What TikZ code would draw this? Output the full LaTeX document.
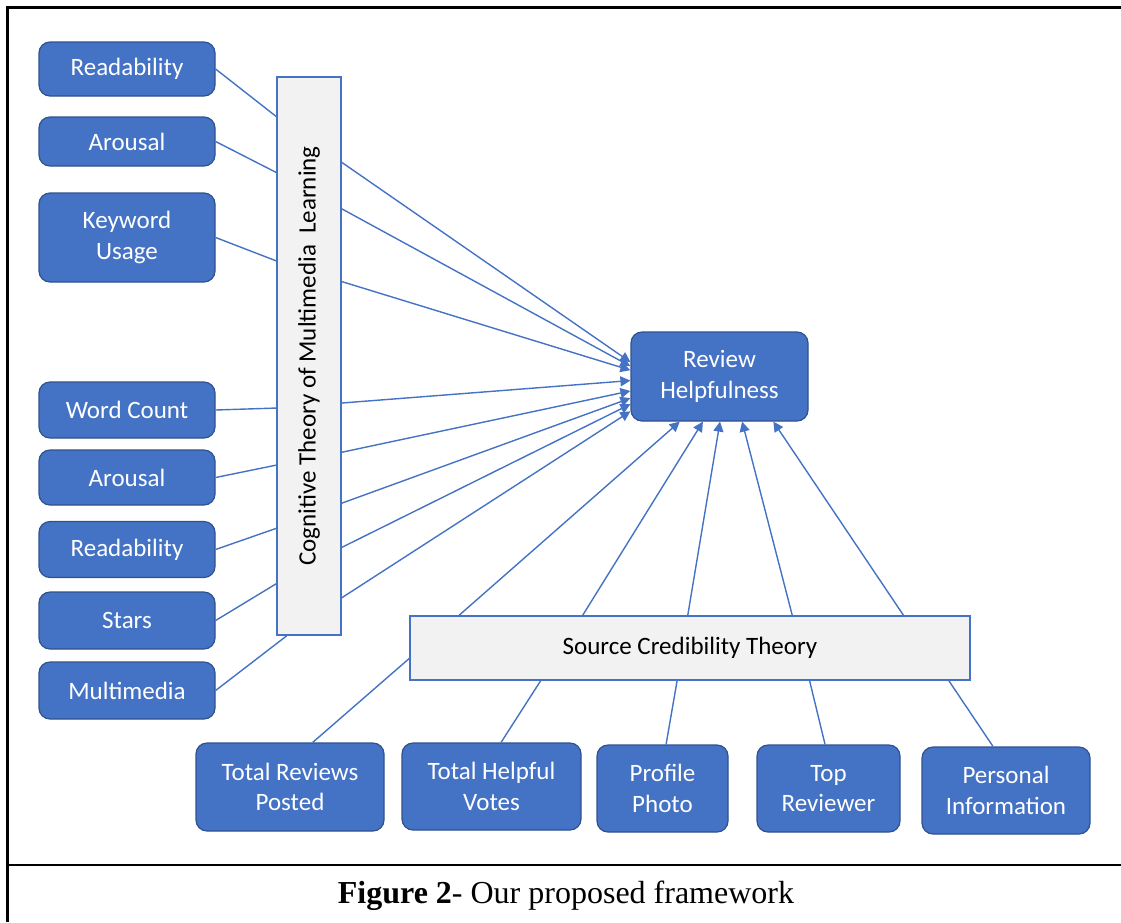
\documentclass[tikz,border=0pt]{standalone}
\usepackage{fontspec}
\setmainfont{Liberation Serif}
\newfontfamily\calibri{Carlito}
\usetikzlibrary{arrows.meta, calc, positioning}
\definecolor{officeBlue}{HTML}{4472C4}
\definecolor{officeEdge}{HTML}{2F528F}
\definecolor{paleGray}{HTML}{F2F2F2}
\tikzset{
    blueBox/.style={draw=officeEdge, line width=1.2pt, fill=officeBlue, rounded corners=11pt,
        text=white, align=center, inner sep=0pt,
        font=\calibri\fontsize{25}{30.5}\selectfont},
    leftBox/.style={blueBox, minimum width=176pt},
    theoryBox/.style={draw=officeBlue, line width=1.6pt, fill=paleGray, inner sep=0pt,
        text=black, font=\calibri\fontsize{25}{30}\selectfont},
    link/.style={draw=officeBlue, line width=1.4pt},
    linkArrow/.style={link, -{Triangle[length=10pt, width=10pt]}}
}

\begin{document}
\begin{tikzpicture}[x=1pt, y=-1pt]
    \useasboundingbox (0,0) rectangle (1121,922);
    % frame, cut off at the right and at the bottom
    \coordinate (fb) at (7,922);
    \coordinate (ft) at (7,7);
    \coordinate (fr) at (1121,7);
    \coordinate (cl) at (7,865);
    \coordinate (cr) at (1121,865);
    \draw[line width=3pt] (fb) -- (ft) -- (fr);
    \draw[line width=2pt] (cl) -- (cr);

    % message features
    \node[leftBox, minimum height=54pt] (rdA) at (127,69) {Readability};
    \node[leftBox, minimum height=49pt] (arA) at (127,141.5) {Arousal};
    \node[leftBox, minimum height=89pt] (kwU) at (127,237.5) {Keyword\\Usage};
    \node[leftBox, minimum height=56pt] (wcB) at (127,410) {Word Count};
    \node[leftBox, minimum height=55pt] (arB) at (127,477.5) {Arousal};
    \node[leftBox, minimum height=56pt] (rdB) at (127,549.5) {Readability};
    \node[leftBox, minimum height=57pt] (stB) at (127,620.5) {Stars};
    \node[leftBox, minimum height=57pt] (mmB) at (127,690.5) {Multimedia};

    % the two theories and the outcome
    \node[theoryBox, minimum width=64pt, minimum height=558pt] (cml) at (309,356)
        {\rotatebox{90}{Cognitive Theory of Multimedia~\ Learning}};
    \node[theoryBox, minimum width=560pt, minimum height=64pt] (sct) at (690,648)
        {Source Credibility Theory};
    \node[blueBox, minimum width=177pt, minimum height=89pt] (rh) at (719.5,376.5)
        {Review\\Helpfulness};

    % source features
    \node[blueBox, minimum width=188pt, minimum height=88pt] (trp) at (290,787) {Total Reviews\\Posted};
    \node[blueBox, minimum width=179pt, minimum height=87pt] (thv) at (491.5,786.5) {Total Helpful\\Votes};
    \node[blueBox, minimum width=131pt, minimum height=87pt] (pp) at (662.5,788.5) {Profile\\Photo};
    \node[blueBox, minimum width=143pt, minimum height=87pt] (tr) at (828.5,788.5) {Top\\Reviewer};
    \node[blueBox, minimum width=168pt, minimum height=87pt] (pi) at (1006,790.5) {Personal\\Information};

    % features into the multimedia learning box
    \draw[link] (rdA.east) -- ($(cml.north west)!0.072!(cml.south west)$);
    \draw[link] (arA.east) -- ($(cml.north west)!0.172!(cml.south west)$);
    \draw[link] (kwU.east) -- ($(cml.north west)!0.330!(cml.south west)$);
    \draw[link] (wcB.east) -- ($(cml.north west)!0.593!(cml.south west)$);
    \draw[link] (arB.east) -- ($(cml.north west)!0.695!(cml.south west)$);
    \draw[link] (rdB.east) -- ($(cml.north west)!0.808!(cml.south west)$);
    \draw[link] (stB.east) -- ($(cml.north west)!0.907!(cml.south west)$);
    \draw[link] (mmB.east) -- ($(cml.south west)!0.16!(cml.south east)$);

    % multimedia learning box to helpfulness
    \draw[linkArrow] ($(cml.north east)!0.154!(cml.south east)$) -- ($(rh.north west)!0.340!(rh.south west)$);
    \draw[linkArrow] ($(cml.north east)!0.237!(cml.south east)$) -- ($(rh.north west)!0.386!(rh.south west)$);
    \draw[linkArrow] ($(cml.north east)!0.367!(cml.south east)$) -- ($(rh.north west)!0.430!(rh.south west)$);
    \draw[linkArrow] ($(cml.north east)!0.584!(cml.south east)$) -- ($(rh.north west)!0.545!(rh.south west)$);
    \draw[linkArrow] ($(cml.north east)!0.672!(cml.south east)$) -- ($(rh.north west)!0.660!(rh.south west)$);
    \draw[linkArrow] ($(cml.north east)!0.763!(cml.south east)$) -- ($(rh.north west)!0.740!(rh.south west)$);
    \draw[linkArrow] ($(cml.north east)!0.842!(cml.south east)$) -- ($(rh.north west)!0.807!(rh.south west)$);
    \draw[linkArrow] ($(cml.north east)!0.932!(cml.south east)$) -- ($(rh.north west)!0.886!(rh.south west)$);

    % source credibility box to helpfulness
    \draw[linkArrow] ($(sct.north west)!0.089!(sct.north east)$) -- ($(rh.south west)!0.277!(rh.south east)$);
    \draw[linkArrow] ($(sct.north west)!0.309!(sct.north east)$) -- ($(rh.south west)!0.407!(rh.south east)$);
    \draw[linkArrow] ($(sct.north west)!0.496!(sct.north east)$) -- ($(rh.south west)!0.503!(rh.south east)$);
    \draw[linkArrow] ($(sct.north west)!0.682!(sct.north east)$) -- ($(rh.south west)!0.627!(rh.south east)$);
    \draw[linkArrow] ($(sct.north west)!0.880!(sct.north east)$) -- ($(rh.south west)!0.802!(rh.south east)$);

    % source features into the credibility box
    \draw[link] ($(trp.north west)!0.62!(trp.north east)$) -- ($(sct.north west)!0.66!(sct.south west)$);
    \draw[link] ($(thv.north west)!0.553!(thv.north east)$) -- ($(sct.south west)!0.234!(sct.south east)$);
    \draw[link] ($(pp.north west)!0.527!(pp.north east)$) -- ($(sct.south west)!0.477!(sct.south east)$);
    \draw[link] ($(tr.north west)!0.476!(tr.north east)$) -- ($(sct.south west)!0.713!(sct.south east)$);
    \draw[link] ($(pi.north west)!0.423!(pi.north east)$) -- ($(sct.south west)!0.961!(sct.south east)$);

    % caption
    \node[font=\fontsize{32}{38}\selectfont] (cap) at (566,896) {\textbf{Figure 2}- Our proposed framework};
\end{tikzpicture}
\end{document}
